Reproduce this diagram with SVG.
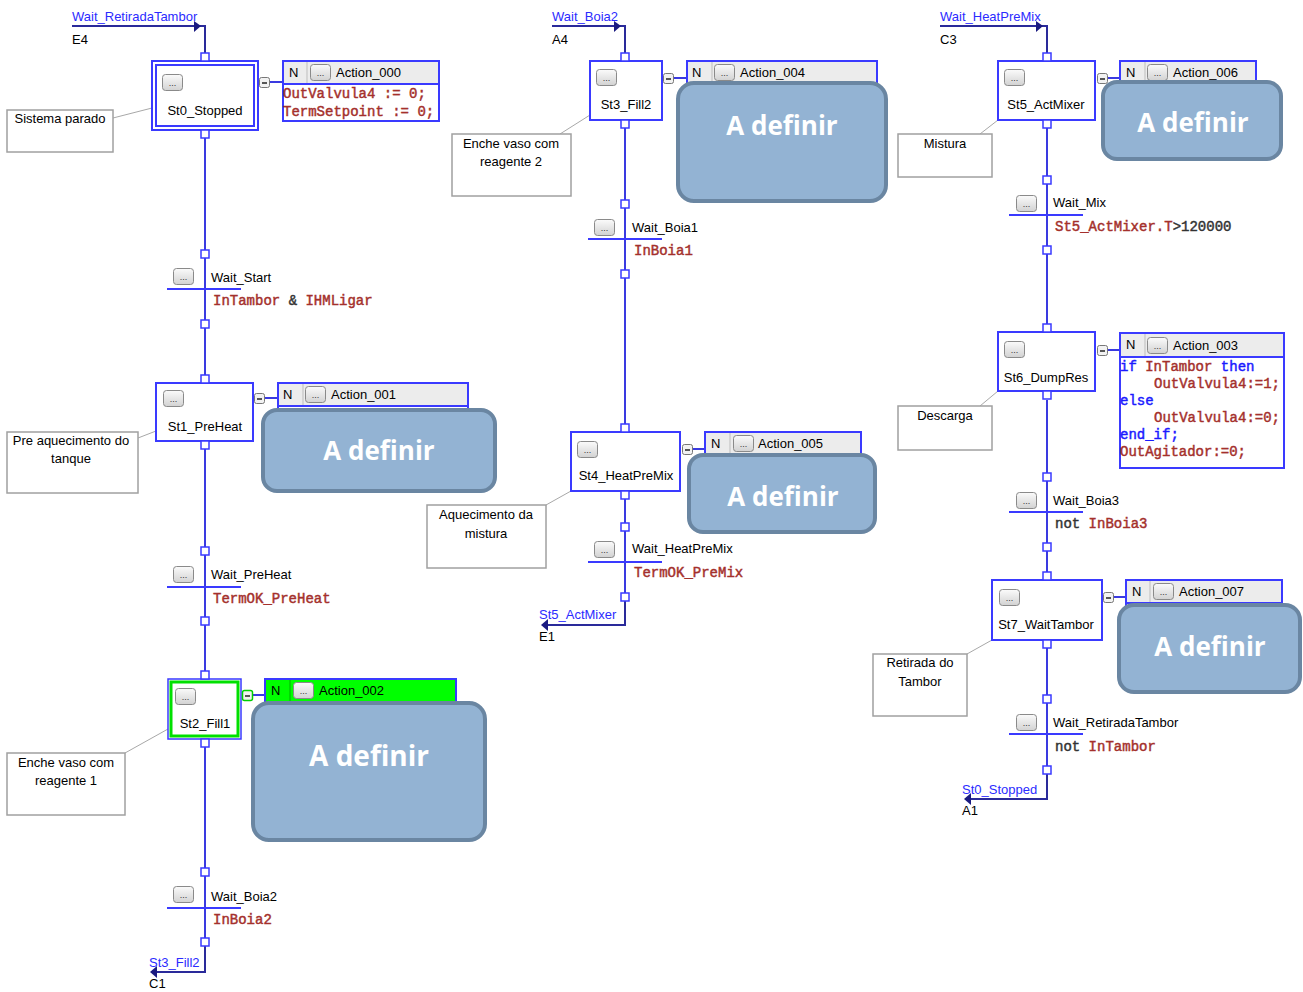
<svg xmlns="http://www.w3.org/2000/svg" width="1303" height="992" viewBox="0 0 1303 992">
<defs>
<linearGradient id="bg" x1="0" y1="0" x2="0" y2="1"><stop offset="0" stop-color="#fbfbfb"/><stop offset="1" stop-color="#d2d2d2"/></linearGradient>
<g id="btn"><rect x="0.5" y="0.5" width="20" height="16" rx="3" fill="url(#bg)" stroke="#8a8a8a"/><text x="10.5" y="12" text-anchor="middle" font-family="Liberation Sans, Arial, sans-serif" font-size="9" fill="#333">...</text></g>
<g id="mini"><rect x="0.5" y="0.5" width="10" height="10" rx="2" fill="#f2f2f2" stroke="#777"/><line x1="3" y1="6" x2="8" y2="6" stroke="#222" stroke-width="1.5"/></g>
</defs>
<style>
.lbl{font-family:"Liberation Sans",Arial,sans-serif;font-size:13px;fill:#000}
.mid{text-anchor:middle}
.jmp{font-family:"Liberation Sans",Arial,sans-serif;font-size:13px;fill:#2b2bff}
.code{font-family:"Liberation Mono","Courier New",monospace;font-size:14px;fill:#a4302c;stroke:#a4302c;stroke-width:0.45;white-space:pre}
.kw{fill:#1a1aff;stroke:#1a1aff}
.op{fill:#333;stroke:#333}
.conn{stroke:#3a3ae0;stroke-width:2;fill:none}
.jl{stroke:#2a2a9a;stroke-width:2;fill:none}
.arr{fill:#1a1a80}
.sq{fill:#fff;stroke:#3a3aff;stroke-width:1.5}
.step{fill:#fff;stroke:#3a3aff;stroke-width:2}
.bar{stroke:#3a3aff;stroke-width:2}
.cmt{fill:#fff;stroke:#a0a0a0;stroke-width:1.5}
.cl{stroke:#a8a8a8;stroke-width:1}
.act{fill:#fff;stroke:#3a3aff;stroke-width:2}
.hdr{fill:#ececec;stroke:#3a3aff;stroke-width:2}
.div{stroke:#bdbdbd;stroke-width:1}
.big{fill:#93b3d3;stroke:#6a86a2;stroke-width:4}
.bigt{font-family:"Open Sans","Noto Sans",sans-serif;font-size:26px;font-weight:bold;fill:#fff;text-anchor:middle}
</style>
<rect width="1303" height="992" fill="#fff"/>

<g id="connectors">
  <path class="jl" d="M72 26 H205 V53"/>
  <polygon class="arr" points="194,21 201,26 194,32"/>
  <path class="conn" d="M205 138 V250"/>
  <path class="conn" d="M205 258 V320"/>
  <path class="conn" d="M205 328 V375"/>
  <path class="conn" d="M205 449 V547"/>
  <path class="conn" d="M205 555 V617"/>
  <path class="conn" d="M205 625 V671"/>
  <path class="conn" d="M205 747 V868"/>
  <path class="conn" d="M205 876 V938"/>
  <path class="jl" d="M205 946 V972 H152"/>
  <polygon class="arr" points="150,972 157,966 157,978"/>
  <path class="conn" d="M270 82 H283"/>
  <path class="conn" d="M265 398 H278"/>
  <path class="conn" d="M253 695 H265"/>
  <path class="jl" d="M552 26 H625 V53"/>
  <polygon class="arr" points="614,21 621,26 614,32"/>
  <path class="conn" d="M625 128 V200"/>
  <path class="conn" d="M625 208 V270"/>
  <path class="conn" d="M625 278 V424"/>
  <path class="conn" d="M625 499 V523"/>
  <path class="conn" d="M625 531 V593"/>
  <path class="jl" d="M625 601 V625 H543"/>
  <polygon class="arr" points="541,625 548,619 548,631"/>
  <path class="conn" d="M674 78 H687"/>
  <path class="conn" d="M693 449 H706"/>
  <path class="jl" d="M940 26 H1047 V53"/>
  <polygon class="arr" points="1036,21 1043,26 1036,32"/>
  <path class="conn" d="M1047 128 V176"/>
  <path class="conn" d="M1047 184 V246"/>
  <path class="conn" d="M1047 254 V324"/>
  <path class="conn" d="M1047 400 V473"/>
  <path class="conn" d="M1047 481 V543"/>
  <path class="conn" d="M1047 551 V572"/>
  <path class="conn" d="M1047 648 V695"/>
  <path class="conn" d="M1047 703 V766"/>
  <path class="jl" d="M1047 774 V799 H966"/>
  <polygon class="arr" points="964,799 971,793 971,805"/>
  <path class="conn" d="M1108 78 H1120"/>
  <path class="conn" d="M1108 350 H1120"/>
  <path class="conn" d="M1114 597 H1126"/>
  <line class="cl" x1="113" y1="118" x2="152" y2="108"/>
  <line class="cl" x1="138" y1="438" x2="156" y2="431"/>
  <line class="cl" x1="125" y1="753" x2="168" y2="729"/>
  <line class="cl" x1="560" y1="134" x2="590" y2="115"/>
  <line class="cl" x1="546" y1="505" x2="571" y2="491"/>
  <line class="cl" x1="980" y1="134" x2="998" y2="120"/>
  <line class="cl" x1="980" y1="406" x2="998" y2="391"/>
  <line class="cl" x1="967" y1="654" x2="992" y2="640"/>
</g>

<g id="jump_in_E4">
  <text class="jmp" x="72" y="21">Wait_RetiradaTambor</text>
  <text class="lbl" x="72" y="44">E4</text>
</g>
<g id="jump_out_C1">
  <text class="jmp" x="149" y="967">St3_Fill2</text>
  <text class="lbl" x="149" y="988">C1</text>
</g>
<g id="jump_in_A4">
  <text class="jmp" x="552" y="21">Wait_Boia2</text>
  <text class="lbl" x="552" y="44">A4</text>
</g>
<g id="jump_out_E1">
  <text class="jmp" x="539" y="619">St5_ActMixer</text>
  <text class="lbl" x="539" y="641">E1</text>
</g>
<g id="jump_in_C3">
  <text class="jmp" x="940" y="21">Wait_HeatPreMix</text>
  <text class="lbl" x="940" y="44">C3</text>
</g>
<g id="jump_out_A1">
  <text class="jmp" x="962" y="794">St0_Stopped</text>
  <text class="lbl" x="962" y="815">A1</text>
</g>

<g id="St0_Stopped">
  <rect class="step" x="152" y="61" width="106" height="69"/>
  <rect class="step" x="156" y="65" width="98" height="61"/>
  <rect class="sq" x="201" y="53" width="8" height="8"/>
  <rect class="sq" x="201" y="130" width="8" height="8"/>
  <use href="#btn" x="162" y="74"/>
  <text class="lbl mid" x="205" y="115">St0_Stopped</text>
  <use href="#mini" x="259" y="77"/>
</g>
<g id="cmt_St0">
  <rect class="cmt" x="7" y="110" width="106" height="42"/>
  <text class="lbl mid" x="60" y="123">Sistema parado</text>
</g>
<g id="Action_000">
  <rect class="act" x="283" y="61" width="156" height="60"/>
  <rect class="hdr" x="283" y="61" width="156" height="23"/>
  <line class="div" x1="307" y1="62" x2="307" y2="83"/>
  <text class="lbl" x="289" y="77">N</text>
  <use href="#btn" x="310" y="64"/>
  <text class="lbl" x="336" y="77">Action_000</text>
  <text class="code" x="283" y="98">OutValvula4 := 0;</text>
  <text class="code" x="283" y="116">TermSetpoint := 0;</text>
</g>

<g id="Wait_Start">
  <rect class="sq" x="201" y="250" width="8" height="8"/>
  <line class="bar" x1="167" y1="289" x2="241" y2="289"/>
  <use href="#btn" x="173" y="268"/>
  <text class="lbl" x="211" y="282">Wait_Start</text>
  <text class="code" x="213" y="305">InTambor <tspan class="op">&amp;</tspan> IHMLigar</text>
  <rect class="sq" x="201" y="320" width="8" height="8"/>
</g>

<g id="St1_PreHeat">
  <rect class="step" x="156" y="383" width="97" height="58"/>
  <rect class="sq" x="201" y="375" width="8" height="8"/>
  <rect class="sq" x="201" y="441" width="8" height="8"/>
  <use href="#btn" x="163" y="390"/>
  <text class="lbl mid" x="205" y="431">St1_PreHeat</text>
  <use href="#mini" x="254" y="393"/>
</g>
<g id="cmt_St1">
  <rect class="cmt" x="7" y="432" width="131" height="61"/>
  <text class="lbl mid" x="71" y="445">Pre aquecimento do</text>
  <text class="lbl mid" x="71" y="463">tanque</text>
</g>
<g id="Action_001">
  <rect class="act" x="278" y="383" width="190" height="32"/>
  <rect class="hdr" x="278" y="383" width="190" height="23"/>
  <line class="div" x1="303" y1="384" x2="303" y2="405"/>
  <text class="lbl" x="283" y="399">N</text>
  <use href="#btn" x="305" y="386"/>
  <text class="lbl" x="331" y="399">Action_001</text>
  <rect class="big" x="263" y="410" width="232" height="81" rx="14"/>
  <text class="bigt" x="379" y="460">A definir</text>
</g>

<g id="Wait_PreHeat">
  <rect class="sq" x="201" y="547" width="8" height="8"/>
  <line class="bar" x1="167" y1="587" x2="241" y2="587"/>
  <use href="#btn" x="173" y="566"/>
  <text class="lbl" x="211" y="579">Wait_PreHeat</text>
  <text class="code" x="213" y="603">TermOK_PreHeat</text>
  <rect class="sq" x="201" y="617" width="8" height="8"/>
</g>

<g id="St2_Fill1">
  <rect x="168" y="679" width="73" height="60" fill="#fff" stroke="#3a3aff" stroke-width="1.5"/>
  <rect x="171" y="682" width="67" height="54" fill="none" stroke="#00e000" stroke-width="3"/>
  <rect class="sq" x="201" y="671" width="8" height="8"/>
  <rect class="sq" x="201" y="739" width="8" height="8"/>
  <use href="#btn" x="175" y="688"/>
  <text class="lbl mid" x="205" y="728">St2_Fill1</text>
  <rect x="242.5" y="690.5" width="10" height="10" rx="2" fill="#f2f2f2" stroke="#00d000" stroke-width="1.5"/>
  <line x1="245" y1="696" x2="250" y2="696" stroke="#222" stroke-width="1.5"/>
</g>
<g id="cmt_St2">
  <rect class="cmt" x="7" y="753" width="118" height="62"/>
  <text class="lbl mid" x="66" y="767">Enche vaso com</text>
  <text class="lbl mid" x="66" y="785">reagente 1</text>
</g>
<g id="Action_002">
  <rect x="265" y="679" width="191" height="30" fill="#00ff00" stroke="#3a3aff" stroke-width="2"/>
  <line x1="290" y1="680" x2="290" y2="701" stroke="#00b000" stroke-width="1"/>
  <text class="lbl" x="271" y="695">N</text>
  <use href="#btn" x="293" y="682"/>
  <text class="lbl" x="319" y="695">Action_002</text>
  <rect class="big" x="253" y="703" width="232" height="137" rx="16"/>
  <text class="bigt" x="369" y="766" style="font-size:28px">A definir</text>
</g>

<g id="Wait_Boia2">
  <rect class="sq" x="201" y="868" width="8" height="8"/>
  <line class="bar" x1="167" y1="908" x2="241" y2="908"/>
  <use href="#btn" x="173" y="886"/>
  <text class="lbl" x="211" y="901">Wait_Boia2</text>
  <text class="code" x="213" y="924">InBoia2</text>
  <rect class="sq" x="201" y="938" width="8" height="8"/>
</g>

<g id="St3_Fill2">
  <rect class="step" x="590" y="61" width="72" height="59"/>
  <rect class="sq" x="621" y="53" width="8" height="8"/>
  <rect class="sq" x="621" y="120" width="8" height="8"/>
  <use href="#btn" x="596" y="69"/>
  <text class="lbl mid" x="626" y="109">St3_Fill2</text>
  <use href="#mini" x="663" y="73"/>
</g>
<g id="cmt_St3">
  <rect class="cmt" x="452" y="134" width="119" height="62"/>
  <text class="lbl mid" x="511" y="148">Enche vaso com</text>
  <text class="lbl mid" x="511" y="166">reagente 2</text>
</g>
<g id="Action_004">
  <rect class="act" x="687" y="61" width="190" height="30"/>
  <rect class="hdr" x="687" y="61" width="190" height="23"/>
  <line class="div" x1="712" y1="62" x2="712" y2="83"/>
  <text class="lbl" x="692" y="77">N</text>
  <use href="#btn" x="714" y="64"/>
  <text class="lbl" x="740" y="77">Action_004</text>
  <rect class="big" x="678" y="83" width="208" height="118" rx="16"/>
  <text class="bigt" x="782" y="135">A definir</text>
</g>

<g id="Wait_Boia1">
  <rect class="sq" x="621" y="200" width="8" height="8"/>
  <line class="bar" x1="588" y1="239" x2="662" y2="239"/>
  <use href="#btn" x="594" y="219"/>
  <text class="lbl" x="632" y="232">Wait_Boia1</text>
  <text class="code" x="634" y="255">InBoia1</text>
  <rect class="sq" x="621" y="270" width="8" height="8"/>
</g>

<g id="St4_HeatPreMix">
  <rect class="step" x="571" y="432" width="109" height="59"/>
  <rect class="sq" x="621" y="424" width="8" height="8"/>
  <rect class="sq" x="621" y="491" width="8" height="8"/>
  <use href="#btn" x="577" y="441"/>
  <text class="lbl mid" x="626" y="480">St4_HeatPreMix</text>
  <use href="#mini" x="682" y="444"/>
</g>
<g id="cmt_St4">
  <rect class="cmt" x="427" y="505" width="119" height="63"/>
  <text class="lbl mid" x="486" y="519">Aquecimento da</text>
  <text class="lbl mid" x="486" y="538">mistura</text>
</g>
<g id="Action_005">
  <rect class="act" x="705" y="432" width="156" height="30"/>
  <rect class="hdr" x="705" y="432" width="156" height="23"/>
  <line class="div" x1="730" y1="433" x2="730" y2="454"/>
  <text class="lbl" x="711" y="448">N</text>
  <use href="#btn" x="733" y="435"/>
  <text class="lbl" x="758" y="448">Action_005</text>
  <rect class="big" x="689" y="455" width="186" height="77" rx="14"/>
  <text class="bigt" x="783" y="506">A definir</text>
</g>

<g id="Wait_HeatPreMix">
  <rect class="sq" x="621" y="523" width="8" height="8"/>
  <line class="bar" x1="588" y1="562" x2="662" y2="562"/>
  <use href="#btn" x="594" y="541"/>
  <text class="lbl" x="632" y="553">Wait_HeatPreMix</text>
  <text class="code" x="634" y="577">TermOK_PreMix</text>
  <rect class="sq" x="621" y="593" width="8" height="8"/>
</g>

<g id="St5_ActMixer">
  <rect class="step" x="998" y="61" width="97" height="59"/>
  <rect class="sq" x="1043" y="53" width="8" height="8"/>
  <rect class="sq" x="1043" y="120" width="8" height="8"/>
  <use href="#btn" x="1004" y="69"/>
  <text class="lbl mid" x="1046" y="109">St5_ActMixer</text>
  <use href="#mini" x="1097" y="73"/>
</g>
<g id="cmt_St5">
  <rect class="cmt" x="898" y="134" width="94" height="43"/>
  <text class="lbl mid" x="945" y="148">Mistura</text>
</g>
<g id="Action_006">
  <rect class="act" x="1120" y="61" width="136" height="30"/>
  <rect class="hdr" x="1120" y="61" width="136" height="23"/>
  <line class="div" x1="1145" y1="62" x2="1145" y2="83"/>
  <text class="lbl" x="1126" y="77">N</text>
  <use href="#btn" x="1147" y="64"/>
  <text class="lbl" x="1173" y="77">Action_006</text>
  <rect class="big" x="1103" y="82" width="178" height="77" rx="14"/>
  <text class="bigt" x="1193" y="132">A definir</text>
</g>

<g id="Wait_Mix">
  <rect class="sq" x="1043" y="176" width="8" height="8"/>
  <line class="bar" x1="1009" y1="215" x2="1083" y2="215"/>
  <use href="#btn" x="1016" y="195"/>
  <text class="lbl" x="1053" y="207">Wait_Mix</text>
  <text class="code" x="1055" y="231">St5_ActMixer.T<tspan class="op">&gt;120000</tspan></text>
  <rect class="sq" x="1043" y="246" width="8" height="8"/>
</g>

<g id="St6_DumpRes">
  <rect class="step" x="998" y="332" width="97" height="59"/>
  <rect class="sq" x="1043" y="324" width="8" height="8"/>
  <rect class="sq" x="1043" y="391" width="8" height="8"/>
  <use href="#btn" x="1004" y="341"/>
  <text class="lbl mid" x="1046" y="382">St6_DumpRes</text>
  <use href="#mini" x="1097" y="345"/>
</g>
<g id="cmt_St6">
  <rect class="cmt" x="898" y="406" width="94" height="44"/>
  <text class="lbl mid" x="945" y="420">Descarga</text>
</g>
<g id="Action_003">
  <rect class="act" x="1120" y="333" width="164" height="135"/>
  <rect class="hdr" x="1120" y="333" width="164" height="24"/>
  <line class="div" x1="1145" y1="334" x2="1145" y2="356"/>
  <text class="lbl" x="1126" y="349">N</text>
  <use href="#btn" x="1147" y="337"/>
  <text class="lbl" x="1173" y="350">Action_003</text>
  <text class="code" x="1120" y="371"><tspan class="kw">if</tspan> InTambor <tspan class="kw">then</tspan></text>
  <text class="code" x="1154" y="388">OutValvula4:=1;</text>
  <text class="code kw" x="1120" y="405">else</text>
  <text class="code" x="1154" y="422">OutValvula4:=0;</text>
  <text class="code kw" x="1120" y="439">end_if;</text>
  <text class="code" x="1120" y="456">OutAgitador:=0;</text>
</g>

<g id="Wait_Boia3">
  <rect class="sq" x="1043" y="473" width="8" height="8"/>
  <line class="bar" x1="1009" y1="512" x2="1083" y2="512"/>
  <use href="#btn" x="1016" y="492"/>
  <text class="lbl" x="1053" y="505">Wait_Boia3</text>
  <text class="code" x="1055" y="528"><tspan class="op">not</tspan> InBoia3</text>
  <rect class="sq" x="1043" y="543" width="8" height="8"/>
</g>

<g id="St7_WaitTambor">
  <rect class="step" x="992" y="580" width="110" height="60"/>
  <rect class="sq" x="1043" y="572" width="8" height="8"/>
  <rect class="sq" x="1043" y="640" width="8" height="8"/>
  <use href="#btn" x="999" y="589"/>
  <text class="lbl mid" x="1046" y="629">St7_WaitTambor</text>
  <use href="#mini" x="1103" y="592"/>
</g>
<g id="cmt_St7">
  <rect class="cmt" x="873" y="654" width="94" height="62"/>
  <text class="lbl mid" x="920" y="667">Retirada do</text>
  <text class="lbl mid" x="920" y="686">Tambor</text>
</g>
<g id="Action_007">
  <rect class="act" x="1126" y="580" width="156" height="30"/>
  <rect class="hdr" x="1126" y="580" width="156" height="23"/>
  <line class="div" x1="1150" y1="581" x2="1150" y2="602"/>
  <text class="lbl" x="1132" y="596">N</text>
  <use href="#btn" x="1153" y="583"/>
  <text class="lbl" x="1179" y="596">Action_007</text>
  <rect class="big" x="1119" y="605" width="181" height="87" rx="15"/>
  <text class="bigt" x="1210" y="656">A definir</text>
</g>

<g id="Wait_RetiradaTambor">
  <rect class="sq" x="1043" y="695" width="8" height="8"/>
  <line class="bar" x1="1009" y1="734" x2="1083" y2="734"/>
  <use href="#btn" x="1016" y="714"/>
  <text class="lbl" x="1053" y="727">Wait_RetiradaTambor</text>
  <text class="code" x="1055" y="751"><tspan class="op">not</tspan> InTambor</text>
  <rect class="sq" x="1043" y="766" width="8" height="8"/>
</g>
</svg>
